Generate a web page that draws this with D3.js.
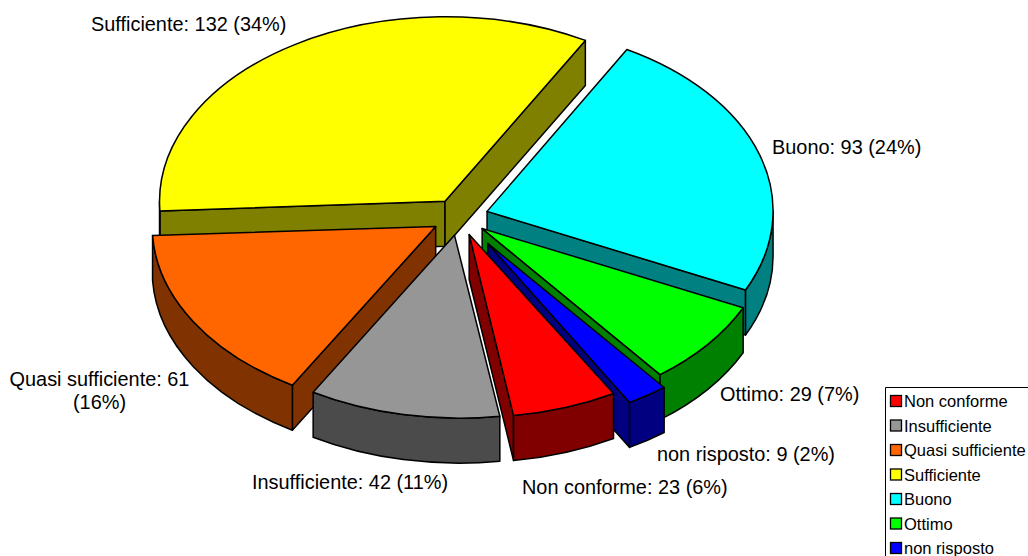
<!DOCTYPE html>
<html>
<head>
<meta charset="utf-8">
<title>Pie</title>
<script src="https://cdnjs.cloudflare.com/ajax/libs/d3/7.8.5/d3.min.js"></script>
<style>
html, body { margin: 0; padding: 0; background: #fff; overflow: hidden; }
text { font-family: "Liberation Sans", Arial, sans-serif; fill: #000; }
</style>
</head>
<body>
<div id="container"></div>
<script>
var names = ["Non conforme", "Insufficiente", "Quasi sufficiente", "Sufficiente", "Buono", "Ottimo", "non risposto"];
var values = [23, 42, 61, 132, 93, 29, 9];
var topColors = ["#ff0000", "#969696", "#ff6600", "#ffff00", "#00ffff", "#00ff00", "#0000ff"];
var sideColors = ["#800000", "#4b4b4b", "#803300", "#808000", "#008080", "#008000", "#000080"];

// painter's order, back slices first
var drawOrder = ["Sufficiente", "Buono", "Quasi sufficiente", "Ottimo", "non risposto", "Non conforme", "Insufficiente"];

// label anchors, baseline y
var labelLines = {
	"Sufficiente": { x: 91, y: 31 },
	"Buono": { x: 772, y: 154 },
	"Ottimo": { x: 720, y: 401 },
	"non risposto": { x: 657, y: 461 },
	"Non conforme": { x: 522, y: 494 },
	"Insufficiente": { x: 252, y: 489 },
	"Quasi sufficiente": { x: 99.5, y: 386, wrap: true }
};

// small per slice corrections: apex and rim centre, the old chart's perspective is not a clean ellipse
var apexShift = {
	"non risposto": [12, 11]
};
var rimShift = {
	"Sufficiente": [0.5, 0.5],
	"Buono": [0, -0.5],
	"Ottimo": [2.5, 0],
	"non risposto": [13, 9],
	"Non conforme": [3.5, -2],
	"Insufficiente": [4.5, -2],
	"Quasi sufficiente": [2.5, -0.5]
};

var width = 1028, height = 556;
var cx = 460, cy = 217;
var rx = 286, ry = 185;
var explodeX = 28.4, explodeY = 18.5;
var depth = 45;
var startAngle = 150.5 * Math.PI / 180;

var total = d3.sum(values);

var pie = d3.pie()
	.sort(null)
	.startAngle(startAngle)
	.endAngle(startAngle + 2 * Math.PI);

var slices = pie(values).map(function(d, i) {
	var mid = (d.startAngle + d.endAngle) / 2;
	var ax = cx + explodeX * Math.sin(mid);
	var ay = cy - explodeY * Math.cos(mid);
	var as = apexShift[names[i]] || [0, 0];
	var rs = rimShift[names[i]] || [0, 0];
	d.name = names[i];
	d.top = topColors[i];
	d.side = sideColors[i];
	d.ox = ax + as[0];
	d.oy = ay + as[1];
	d.rcx = ax + rs[0];
	d.rcy = ay + rs[1];
	return d;
});

function rimX(d, a) { return d.rcx + rx * Math.sin(a); }
function rimY(d, a) { return d.rcy - ry * Math.cos(a); }

function arcTo(d, a0, a1, dy) {
	var large = Math.abs(a1 - a0) > Math.PI ? 1 : 0;
	var sweep = a1 > a0 ? 1 : 0;
	return "A" + rx + "," + ry + " 0 " + large + " " + sweep + " " + rimX(d, a1) + "," + (rimY(d, a1) + dy);
}

function topPath(d) {
	return "M" + d.ox + "," + d.oy
		+ "L" + rimX(d, d.startAngle) + "," + rimY(d, d.startAngle)
		+ arcTo(d, d.startAngle, d.endAngle, 0) + "Z";
}

function radialWall(d, a) {
	return "M" + d.ox + "," + d.oy
		+ "L" + rimX(d, a) + "," + rimY(d, a)
		+ "L" + rimX(d, a) + "," + (rimY(d, a) + depth)
		+ "L" + d.ox + "," + (d.oy + depth) + "Z";
}

// front part of the rim wall, angle range 90deg..270deg (also one turn on)
function rimWall(d) {
	var out = "";
	[0, 2 * Math.PI].forEach(function(turn) {
		var a0 = Math.max(d.startAngle, Math.PI / 2 + turn);
		var a1 = Math.min(d.endAngle, 3 * Math.PI / 2 + turn);
		if (a1 <= a0) return;
		out += "M" + rimX(d, a0) + "," + rimY(d, a0)
			+ arcTo(d, a0, a1, 0)
			+ "L" + rimX(d, a1) + "," + (rimY(d, a1) + depth)
			+ arcTo(d, a1, a0, depth) + "Z";
	});
	return out;
}

var svg = d3.select("#container").append("svg")
	.attr("width", width)
	.attr("height", height)
	.style("display", "block");

var pieGroup = svg.append("g").attr("class", "pie");

var slice = pieGroup.selectAll(".slice")
	.data(drawOrder.map(function(n) {
		return slices.find(function(s) { return s.name == n; });
	}))
	.enter().append("g")
	.attr("class", "slice")
	.attr("stroke", "#000")
	.attr("stroke-width", 1.5)
	.attr("stroke-linejoin", "round");

// only the walls that face the viewer
slice.filter(function(d) { return Math.sin(d.startAngle) < 0; }).append("path")
	.attr("d", function(d) { return radialWall(d, d.startAngle); })
	.attr("fill", function(d) { return d.side; });
slice.filter(function(d) { return Math.sin(d.endAngle) > 0; }).append("path")
	.attr("d", function(d) { return radialWall(d, d.endAngle); })
	.attr("fill", function(d) { return d.side; });
slice.append("path")
	.attr("d", rimWall)
	.attr("fill", function(d) { return d.side; });
slice.append("path")
	.attr("d", topPath)
	.attr("fill", function(d) { return d.top; });

/* data labels */
var labels = svg.append("g").attr("class", "labels").style("font-size", "19.9px");

slices.forEach(function(d) {
	var pos = labelLines[d.name];
	var pct = Math.round(d.value / total * 100) + "%";
	if (pos.wrap) {
		labels.append("text").attr("x", pos.x).attr("y", pos.y).attr("text-anchor", "middle")
			.text(d.name + ": " + d.value);
		labels.append("text").attr("x", pos.x).attr("y", pos.y + 23).attr("text-anchor", "middle")
			.text("(" + pct + ")");
	} else {
		labels.append("text").attr("x", pos.x).attr("y", pos.y)
			.text(d.name + ": " + d.value + " (" + pct + ")");
	}
});

/* legend, runs off the right and bottom of the picture */
var legend = svg.append("g").attr("class", "legend");

legend.append("path")
	.attr("d", "M885.5,556V387.5H1028")
	.attr("fill", "none")
	.attr("stroke", "#000")
	.attr("stroke-width", 1);

var legendY = d3.scalePoint()
	.domain(names)
	.range([401, 548]);

var item = legend.selectAll(".item")
	.data(slices)
	.enter().append("g")
	.attr("class", "item")
	.attr("transform", function(d) { return "translate(0," + legendY(d.name) + ")"; });

item.append("rect")
	.attr("x", 890.5)
	.attr("y", -5.5)
	.attr("width", 11)
	.attr("height", 11)
	.attr("fill", function(d) { return d.top; })
	.attr("stroke", "#000")
	.attr("stroke-width", 1.3);

item.append("text")
	.attr("x", 904)
	.attr("y", 6)
	.style("font-size", "16.5px")
	.text(function(d) { return d.name; });
</script>
</body>
</html>
